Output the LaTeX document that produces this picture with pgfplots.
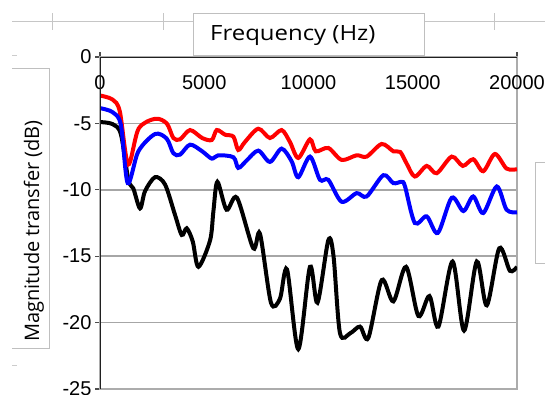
\documentclass[border=0pt]{standalone}
\usepackage{pgfplots}
\pgfplotsset{compat=1.18}
\usepackage{fontspec}
\setmainfont{Liberation Sans}
\newfontfamily\lblfont{Open Sans}
\begin{document}
\begin{tikzpicture}
\useasboundingbox (0,0) rectangle (545pt,-394pt);
\clip (0,0) rectangle (545pt,-394pt);
% background decorations
\draw[gray!45, line width=1pt] (12pt,-21pt) -- (545pt,-21pt);
\foreach \xx in {52,163,494} \draw[gray!45,line width=1pt] (\xx pt,-13pt) -- (\xx pt,-30pt);
\draw[gray!40, line width=1pt] (12pt,-55pt) -- (17pt,-55pt);
\draw[gray!40, line width=1pt] (12pt,-365pt) -- (17pt,-365pt);
\begin{axis}[
  at={(100pt,-389pt)}, anchor=south west,
  scale only axis, width=417pt, height=332pt,
  xmin=0, xmax=20000, ymin=-25, ymax=0,
  scaled x ticks=false, scaled y ticks=false,
  xtick={0,5000,10000,15000,20000},
  xticklabels={0,5000,10000,15000,20000},
  ytick={0,-5,-10,-15,-20,-25},
  yticklabels={0,-5,-10,-15,-20,-25},
  xtick pos=upper, xticklabel pos=upper,
  ytick pos=left,
  tick align=outside, major tick length=5pt,
  tick style={gray!60!black, line width=1.2pt},
  ticklabel style={font=\fontsize{20}{24}\selectfont},
  xticklabel style={anchor=center, yshift=-31pt},
  ymajorgrids, grid style={gray!70, line width=1.5pt},
  axis line style={draw=gray!65, line width=1.5pt},
]
\addplot[black, line width=4pt, smooth, tension=0.5] coordinates {
(0,-4.9) (600,-5.05) (1000,-5.8) (1360,-9.25) (1600,-9.9) (1920,-11.4) (2160,-10.1) (2640,-9.05) (3120,-9.6) (3600,-11.9) (3920,-13.4) (4160,-12.9) (4450,-13.9) (4720,-15.8) (5280,-13.8) (5440,-11.6) (5630,-9.4) (6070,-11.5) (6570,-10.6) (7350,-14.4) (7670,-13.3) (8200,-18.5) (8630,-18.2) (8970,-16.0) (9510,-22.0) (10070,-15.8) (10430,-18.5) (10950,-13.8) (11200,-15.0) (11510,-20.8) (12000,-20.8) (12470,-20.3) (12870,-21.15) (13510,-16.8) (14070,-18.4) (14680,-15.8) (15270,-19.5) (15800,-18.0) (16230,-20.3) (16910,-15.4) (17460,-20.6) (18070,-15.4) (18550,-18.7) (19150,-14.4) (19660,-16.1) (20000,-15.8)
};
\addplot[red, line width=4pt, smooth, tension=0.5] coordinates {
(0,-2.9) (600,-3.2) (950,-4.1) (1350,-8.1) (1850,-5.4) (2650,-4.65) (3200,-5.0) (3520,-6.1) (3840,-6.2) (4320,-5.5) (4900,-6.1) (5360,-6.25) (5600,-5.5) (6000,-5.85) (6400,-6.0) (6630,-7.0) (6950,-6.4) (7590,-5.4) (8150,-6.1) (8710,-5.5) (9110,-6.4) (9510,-7.6) (10070,-6.2) (10350,-7.1) (10950,-6.85) (11590,-7.75) (12310,-7.4) (12790,-7.5) (13510,-6.55) (14070,-7.1) (14400,-7.15) (14700,-8.0) (15100,-9.0) (15670,-8.2) (16150,-8.75) (16870,-7.5) (17400,-8.2) (17900,-7.7) (18380,-8.6) (18940,-7.3) (19500,-8.4) (20000,-8.45)
};
\addplot[blue, line width=4pt, smooth, tension=0.5] coordinates {
(0,-3.85) (600,-4.15) (1000,-5.1) (1330,-9.5) (1840,-7.1) (2640,-5.8) (3200,-6.15) (3520,-7.25) (3840,-7.35) (4320,-6.6) (4900,-7.1) (5360,-7.65) (5670,-7.4) (6400,-7.55) (6630,-8.35) (7030,-7.8) (7590,-7.05) (8150,-7.9) (8710,-6.9) (9190,-7.85) (9510,-9.05) (10070,-7.5) (10550,-9.25) (10950,-9.25) (11590,-10.9) (12310,-10.25) (12790,-10.5) (13590,-8.9) (14070,-9.5) (14470,-9.4) (14630,-9.75) (15100,-12.5) (15670,-12.0) (16200,-13.25) (16870,-10.6) (17430,-11.6) (17900,-10.5) (18380,-11.75) (19030,-9.75) (19500,-11.5) (20000,-11.7)
};
\draw[gray!25!black, line width=1.8pt] (rel axis cs:0,0) -- (rel axis cs:0,1) -- (rel axis cs:1,1);
\end{axis}
% title box
\draw[gray!50, line width=1pt, fill=white] (193.6pt,-13pt) rectangle (424.7pt,-55pt);
\node[anchor=west, inner sep=0pt] at (210pt,-36pt) {\lblfont\fontsize{21}{25}\selectfont\scalebox{1.14}[1]{Frequency (Hz)}};
% y label box
\fill[white] (0pt,-68pt) rectangle (49pt,-348pt);
\draw[gray!50, line width=1pt] (12pt,-68pt) -- (49pt,-68pt) -- (49pt,-348pt) -- (12pt,-348pt);
\node[anchor=west, rotate=90, inner sep=0pt] at (34pt,-342pt) {\lblfont\fontsize{20}{24}\selectfont Magnitude transfer (dB)};
% clipped legend box on right
\draw[gray!50, line width=1pt] (548pt,-162pt) -- (535pt,-162pt) -- (535pt,-263pt) -- (548pt,-263pt);
\end{tikzpicture}
\end{document}
